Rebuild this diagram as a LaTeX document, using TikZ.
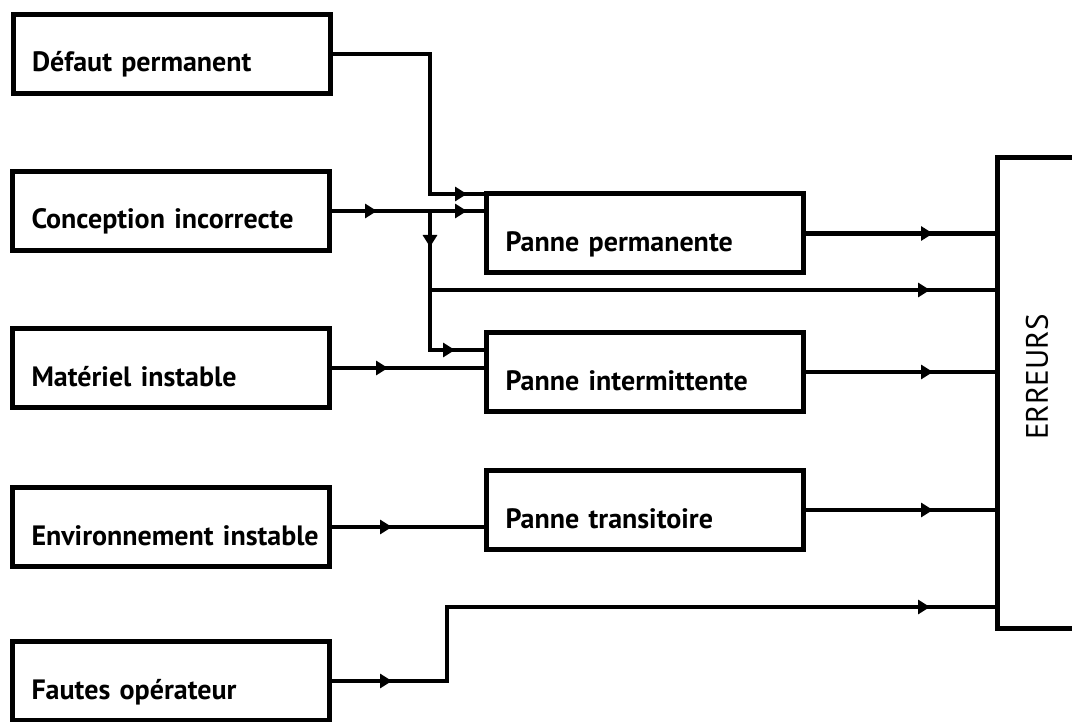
\documentclass[tikz,border=0pt]{standalone}
\usepackage{fontspec}
\setmainfont{PT Sans}
\usetikzlibrary{arrows.meta}

\begin{document}
\begin{tikzpicture}[x=1pt, y=-1pt, >={Triangle[length=12pt,width=14pt]},
    box/.style={draw, line width=5pt, minimum width=317pt, minimum height=79pt,
        inner xsep=8.5pt, text width=300pt, align=left, text height=36pt, text depth=0pt,
        execute at begin node={\hspace*{10.5pt}},
        font=\fontsize{28}{32}\selectfont\bfseries},
    wire/.style={line width=4.5pt}]
    \useasboundingbox (0,0) rectangle (1072,722);

    % boites de gauche (causes)
    \node[box] (def) at (171.5,54) {Défaut permanent};
    \node[box] (con) at (171,211) {Conception incorrecte};
    \node[box] (mat) at (171,368) {Matériel instable};
    \node[box] (env) at (171,527) {Environnement instable};
    \node[box] (fau) at (171,681) {Fautes opérateur};

    % boites du milieu (pannes)
    \node[box] (pp) at (645,233.5) {Panne permanente};
    \node[box] (pi) at (645,372) {Panne intermittente};
    \node[box] (pt) at (645,510) {Panne transitoire};

    % boite ERREURS
    \node[draw, line width=5pt, minimum width=100pt, minimum height=470pt] (err) at (1047,393) {};
    \node[rotate=90, font=\fontsize{31}{36}\selectfont] (errtxt) at (1037,377) {ERREURS};

    % points de jonction
    \coordinate (b1) at (430,194);
    \coordinate (b2) at (430,211);
    \coordinate (b3) at (430,350);
    \coordinate (b4) at (430,290);
    \coordinate (f1) at (447,607);

    % Defaut permanent -> Panne permanente
    \draw[wire] (def.east) -| (b1) -- (b1 -| pp.west);
    \draw[wire,->] (b1) -- ++(37,0);

    % Conception incorrecte -> pannes et erreurs
    \draw[wire] (con.east) -- (con.east -| pp.west);
    \draw[wire,->] (con.east) -- ++(45,0);
    \draw[wire,->] (b2) -- ++(37,0);
    \draw[wire] (b2) -- (b3) -- (b3 -| pi.west);
    \draw[wire,->] (b2) -- ++(0,36);
    \draw[wire,->] (b3) -- ++(25,0);
    \draw[wire] (b4) -- (b4 -| err.west);
    \draw[wire,->] (b4) -- ++(500,0);

    % Materiel instable -> Panne intermittente
    \draw[wire] (mat.east) -- (mat.east -| pi.west);
    \draw[wire,->] (mat.east) -- ++(56,0);

    % Environnement instable -> Panne transitoire
    \draw[wire] (env.east) -- (env.east -| pt.west);
    \draw[wire,->] (env.east) -- ++(60,0);

    % Fautes operateur -> erreurs
    \draw[wire] (fau.east) -| (f1) -- (f1 -| err.west);
    \draw[wire,->] (fau.east) -- ++(60,0);
    \draw[wire,->] (f1) -- ++(483,0);

    % pannes -> erreurs
    \draw[wire] (pp.east) -- (pp.east -| err.west);
    \draw[wire,->] (pp.east) -- ++(127,0);
    \draw[wire] (pi.east) -- (pi.east -| err.west);
    \draw[wire,->] (pi.east) -- ++(127,0);
    \draw[wire] (pt.east) -- (pt.east -| err.west);
    \draw[wire,->] (pt.east) -- ++(127,0);
\end{tikzpicture}
\end{document}
